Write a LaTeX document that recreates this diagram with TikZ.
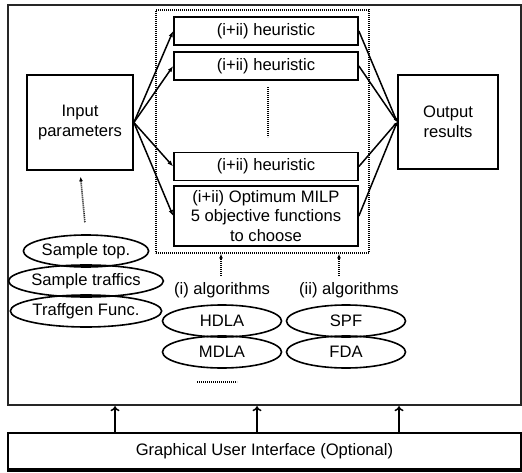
\documentclass[tikz,border=0pt]{standalone}
\usepackage{fontspec}
\setmainfont{Liberation Sans}
\usetikzlibrary{shapes.geometric,arrows.meta}
\begin{document}
\begin{tikzpicture}[x=1bp,y=-1bp,
  every node/.style={font=\fontsize{16.6bp}{19.5bp}\selectfont, inner sep=0pt, align=center},
  box/.style={draw, line width=1.7bp},
  ell/.style={draw, ellipse, line width=1.6bp, minimum width=119bp, minimum height=32bp},
  dotline/.style={line width=1.8bp, dash pattern=on 1bp off 1bp},
  inarrow/.style={line width=1.5bp, -{Latex[length=6bp,width=4.5bp]}},
  outline/.style={line width=1.5bp, -{Latex[length=4bp,width=3bp]}},
  dotarrow/.style={line width=1.6bp, dash pattern=on 1bp off 1bp, -{Latex[length=4.5bp,width=4bp]}},
  guiarrow/.style={line width=1.5bp, -{To[length=5bp,width=9bp]}}]
\useasboundingbox (0,0) rectangle (522,473);
\fill[white] (0,0) rectangle (522,473);
% outer frame and GUI
\node[draw, line width=2.4bp, draw=black!85, minimum width=513bp, minimum height=400bp] (frame) at (264.5,205) {};
\node[draw, line width=1.8bp, minimum width=513bp, minimum height=36bp] (gui) at (264.5,451) {Graphical User Interface (Optional)};
\draw[line width=3.5bp] (gui.south west) -- (gui.south east);
\coordinate (ga) at (115,0);
\coordinate (gb) at (257,0);
\coordinate (gc) at (399,0);
\draw[guiarrow] (ga |- gui.north) -- (ga |- frame.south);
\draw[guiarrow] (gb |- gui.north) -- (gb |- frame.south);
\draw[guiarrow] (gc |- gui.north) -- (gc |- frame.south);
% dotted pool
\node[draw, dotline, minimum width=213bp, minimum height=243bp] (pool) at (262.5,131.5) {};
% heuristic boxes
\node[box, minimum width=184bp, minimum height=28bp] (h1) at (266,31) {(i+ii) heuristic};
\node[box, minimum width=184bp, minimum height=28bp] (h2) at (266,66) {(i+ii) heuristic};
\node[box, minimum width=184bp, minimum height=28bp] (h3) at (266,166.5) {(i+ii) heuristic};
\node[box, minimum width=184bp, minimum height=60bp] (milp) at (266,216) {(i+ii) Optimum MILP\\5 objective functions\\to choose};
\coordinate (vd1) at (268,87);
\coordinate (vd2) at (268,137);
\draw[dotline] (vd1) -- (vd2);
% input / output
\node[box, minimum width=106bp, minimum height=95bp] (inp) at (80,122.5) {Input\\parameters};
\node[box, minimum width=100bp, minimum height=94bp] (outp) at (448,122) {Output\\results};
\foreach \h in {h1,h2,h3,milp} {
  \draw[inarrow] (inp.east) -- (\h.west);
  \draw[outline] (\h.east) -- (outp.west);
}
% sample ellipses
\node[ell, minimum width=118bp] (stop) at (86,251) {Sample top.};
\node[ell, minimum width=118bp] (straf) at (86,281) {Sample traffics};
\node[ell, minimum width=118bp] (sgen) at (86,311) {Traffgen Func.};
\draw[dotarrow, shorten <=12bp, shorten >=6bp] (stop.north) -- (inp.south);
% algorithms
\node (algi) at (222,290) {(i) algorithms};
\node (algii) at (349,290) {(ii) algorithms};
\coordinate (ai) at (221,276);
\coordinate (aii) at (339,276);
\draw[dotarrow] (ai) -- (ai |- pool.south);
\draw[dotarrow] (aii) -- (aii |- pool.south);
\node[ell] (hdla) at (222,321) {HDLA};
\node[ell] (mdla) at (222,352) {MDLA};
\node[ell] (spf) at (346,321) {SPF};
\node[ell] (fda) at (346,352) {FDA};
\coordinate (md1) at (197,382);
\coordinate (md2) at (237,382);
\draw[dotline, line width=1.4bp] (md1) -- (md2);
\end{tikzpicture}
\end{document}
